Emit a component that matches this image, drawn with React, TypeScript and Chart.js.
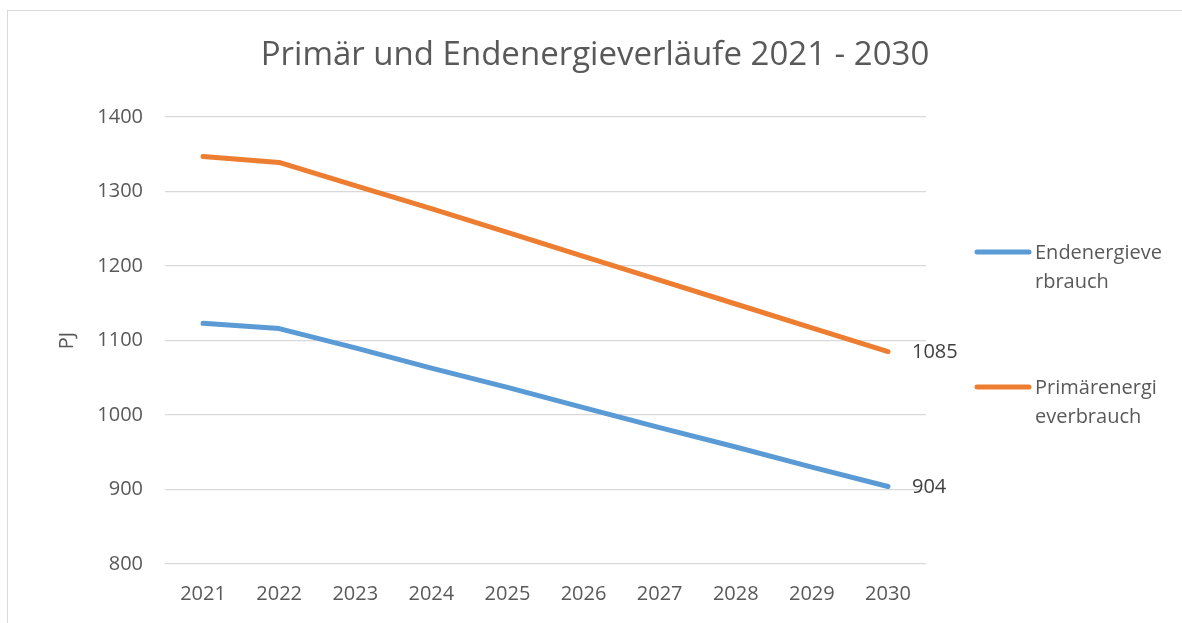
import React, { useEffect, useRef } from "react";
import { Chart, registerables } from "chart.js";

Chart.register(...registerables);

const chartTitle = "Primär und Endenergieverläufe 2021 - 2030";
const yAxisTitle = "PJ";
const years = ["2021", "2022", "2023", "2024", "2025", "2026", "2027", "2028", "2029", "2030"];
const endenergieverbrauch = [1123, 1116, 1090, 1063, 1037, 1010, 983, 957, 930, 904];
const primaerenergieverbrauch = [1347, 1339, 1308, 1277, 1245, 1213, 1181, 1149, 1117, 1085];
const seriesNames = ["Endenergieverbrauch", "Primärenergieverbrauch"];
const legendLines = [
  ["Endenergieve", "rbrauch"],
  ["Primärenergi", "everbrauch"],
];
const seriesColors = ["#5B9BD5", "#ED7D31"];
const yMin = 800;
const yMax = 1400;
const yStep = 100;

const FONT = "'Open Sans', 'Noto Sans', sans-serif";
const TEXT = "#595959";

const decorPlugin = {
  id: "decor",
  beforeDraw(chart: any) {
    const { ctx, width, height } = chart;
    ctx.save();
    ctx.fillStyle = "#ffffff";
    ctx.fillRect(0, 0, width, height);
    ctx.strokeStyle = "#D9D9D9";
    ctx.lineWidth = 1;
    ctx.strokeRect(7.5, 10.5, width + 20, height + 20);
    ctx.restore();
  },
  afterDraw(chart: any) {
    const { ctx } = chart;
    ctx.save();
    // title
    ctx.font = `33px ${FONT}`;
    ctx.fillStyle = TEXT;
    ctx.textAlign = "center";
    ctx.textBaseline = "middle";
    ctx.fillText(chartTitle, 595, 56);
    // end-point data labels
    ctx.font = `20px ${FONT}`;
    ctx.fillStyle = "#404040";
    ctx.textBaseline = "middle";
    ctx.textAlign = "left";
    chart.data.datasets.forEach((ds: any, i: number) => {
      const meta = chart.getDatasetMeta(i);
      const last = meta.data.length - 1;
      const pt = meta.data[last];
      ctx.fillText(String(ds.data[last]), pt.x + 24, pt.y + 1);
    });
    // legend
    const legendY = [252, 387];
    legendLines.forEach((lines, i) => {
      const y = legendY[i];
      ctx.strokeStyle = seriesColors[i];
      ctx.lineWidth = 5;
      ctx.lineCap = "round";
      ctx.beginPath();
      ctx.moveTo(977, y);
      ctx.lineTo(1029, y);
      ctx.stroke();
      ctx.fillStyle = TEXT;
      ctx.font = `20px ${FONT}`;
      lines.forEach((t, j) => ctx.fillText(t, 1035, y + j * 29 + 1));
    });
    ctx.restore();
  },
};

export default function App() {
  const ref = useRef<HTMLCanvasElement | null>(null);
  useEffect(() => {
    if (!ref.current) return;
    const chart = new Chart(ref.current, {
      type: "line",
      data: {
        labels: years,
        datasets: [
          {
            label: seriesNames[0],
            data: endenergieverbrauch,
            borderColor: seriesColors[0],
            backgroundColor: seriesColors[0],
            borderWidth: 5,
            pointRadius: 0,
            borderCapStyle: "round",
            borderJoinStyle: "round",
            tension: 0,
          },
          {
            label: seriesNames[1],
            data: primaerenergieverbrauch,
            borderColor: seriesColors[1],
            backgroundColor: seriesColors[1],
            borderWidth: 5,
            pointRadius: 0,
            borderCapStyle: "round",
            borderJoinStyle: "round",
            tension: 0,
          },
        ],
      },
      options: {
        animation: false,
        responsive: false,
        maintainAspectRatio: false,
        layout: { padding: { left: 0, right: 256, top: 117, bottom: 0 } },
        plugins: {
          legend: { display: false },
          tooltip: { enabled: false },
          title: { display: false },
        },
        scales: {
          x: {
            offset: true,
            grid: { display: false, drawTicks: false },
            border: { display: false },
            ticks: {
              color: TEXT,
              font: { family: FONT, size: 20 },
              padding: 18,
              maxRotation: 0,
            },
            afterFit: (s: any) => {
              s.height = 59;
            },
          },
          y: {
            min: yMin,
            max: yMax,
            ticks: {
              stepSize: yStep,
              color: TEXT,
              font: { family: FONT, size: 20 },
              padding: 22,
              callback: (v: any) => String(v),
            },
            grid: { color: "#D9D9D9", lineWidth: 1.3, drawTicks: false },
            border: { display: false },
            title: {
              display: true,
              text: yAxisTitle,
              color: TEXT,
              font: { family: FONT, size: 20, weight: "normal" },
              padding: { top: 55, bottom: 0 },
            },
            afterFit: (s: any) => {
              s.width = 165;
            },
          },
        },
      },
      plugins: [decorPlugin],
    });
    return () => chart.destroy();
  }, []);
  return (
    <div style={{ position: "fixed", left: 0, top: 0, width: 1182, height: 623 }}>
      <canvas ref={ref} width={1182} height={623} style={{ display: "block" }} />
    </div>
  );
}
